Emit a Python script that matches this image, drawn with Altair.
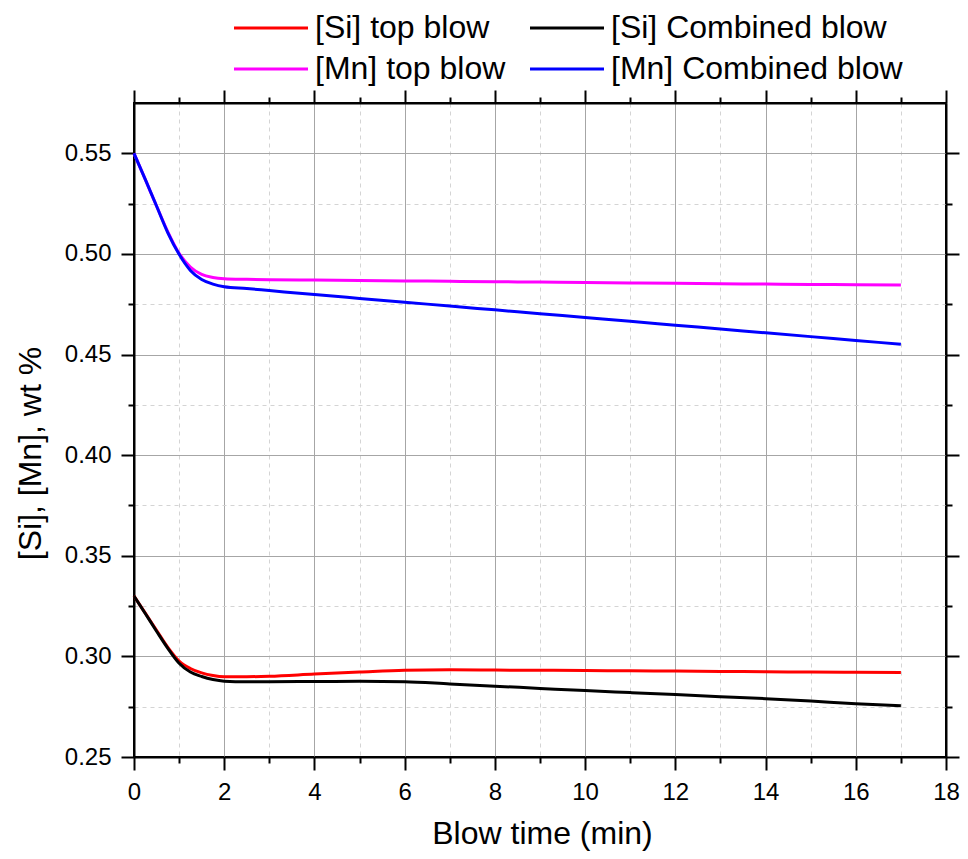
import altair as alt
import pandas as pd

# ---- data ----
time = [0, 0.25, 0.5, 0.75, 1, 1.25, 1.5, 1.75, 2, 2.5, 3, 4, 5, 6, 7, 8, 9, 10,
        11, 12, 13, 14, 15, 16, 17]

si_top = [0.330, 0.3215, 0.313, 0.3045, 0.2977, 0.2940, 0.2918, 0.2905, 0.2899,
          0.2899, 0.2901, 0.2912, 0.2922, 0.2931, 0.2933, 0.2932, 0.2931, 0.2930,
          0.2928, 0.2927, 0.2925, 0.2924, 0.2922, 0.2921, 0.2920]

si_comb = [0.330, 0.3213, 0.3125, 0.304, 0.2966, 0.2922, 0.2900, 0.2885, 0.2877,
           0.2874, 0.2874, 0.2875, 0.2876, 0.2874, 0.2863, 0.2852, 0.2841, 0.2830,
           0.2820, 0.2810, 0.2800, 0.2790, 0.2778, 0.2765, 0.2755]

mn_top = [0.550, 0.537, 0.5238, 0.5110, 0.5003, 0.4935, 0.4898, 0.4883, 0.4877,
          0.4874, 0.4872, 0.4870, 0.4868, 0.4866, 0.4864, 0.4862, 0.4860, 0.4858,
          0.4856, 0.4854, 0.4852, 0.4850, 0.4848, 0.4847, 0.4845]

mn_comb = [0.550, 0.537, 0.5238, 0.5105, 0.4998, 0.4918, 0.4873, 0.4850, 0.4837,
           0.4828, 0.4818, 0.4798, 0.4779, 0.4760, 0.4741, 0.4722, 0.4703, 0.4684,
           0.4665, 0.4646, 0.4627, 0.4608, 0.4589, 0.4570, 0.4551]

# legend fills column by column: left column = top blow, right column = combined blow
series_names = ["[Si] top blow", "[Mn] top blow", "[Si] Combined blow", "[Mn] Combined blow"]
series_colors = ["#ff0000", "#ff00ff", "#000000", "#0000ff"]
series_values = [si_top, mn_top, si_comb, mn_comb]

x_major = [0, 2, 4, 6, 8, 10, 12, 14, 16, 18]
x_minor = [1, 3, 5, 7, 9, 11, 13, 15, 17]
y_major = [0.25, 0.30, 0.35, 0.40, 0.45, 0.50, 0.55]
y_minor = [0.275, 0.325, 0.375, 0.425, 0.475, 0.525]

rows = []
for name, vals in zip(series_names, series_values):
    for t, v in zip(time, vals):
        rows.append({"t": t, "v": v, "series": name})
df = pd.DataFrame(rows)

FONT = "Arial, Liberation Sans, sans-serif"
xs = alt.Scale(domain=[0, 18], nice=False, zero=False)
ys = alt.Scale(domain=[0.25, 0.575], nice=False, zero=False)


def axis_layer(xaxis, yaxis):
    return alt.Chart(df).mark_line(strokeOpacity=0).encode(
        x=alt.X("t:Q", scale=xs, axis=xaxis),
        y=alt.Y("v:Q", scale=ys, axis=yaxis),
        detail="series:N",
    )


common = dict(tickColor="black", tickWidth=2, labelFlush=False, labelOverlap=False)

minor_main = axis_layer(
    alt.Axis(orient="bottom", values=x_minor, grid=True, gridColor="#d4d4d4",
             gridDash=[4, 4], gridWidth=1, tickSize=6, labels=False, domain=False,
             title=None, **common),
    alt.Axis(orient="left", values=y_minor, grid=True, gridColor="#d4d4d4",
             gridDash=[4, 4], gridWidth=1, tickSize=6, labels=False, domain=False,
             title=None, **common),
)

minor_mirror = axis_layer(
    alt.Axis(orient="top", values=x_minor, grid=False, tickSize=6, labels=False,
             domain=False, title=None, **common),
    alt.Axis(orient="right", values=y_minor, grid=False, tickSize=6, labels=False,
             domain=False, title=None, **common),
)

major_main = axis_layer(
    alt.Axis(orient="bottom", values=x_major, grid=True, gridColor="#a6a6a6",
             gridWidth=1, tickSize=13, labels=True, labelFont=FONT, labelFontSize=24,
             labelColor="black", labelPadding=10, format="d", domain=True,
             domainColor="black", domainWidth=2, title="Blow time (min)",
             titleFont=FONT, titleFontSize=32, titleFontWeight="normal",
             titleColor="black", titleX=408, titleY=61, **common),
    alt.Axis(orient="left", values=y_major, grid=True, gridColor="#a6a6a6",
             gridWidth=1, tickSize=13, labels=True, labelFont=FONT, labelFontSize=24,
             labelColor="black", labelPadding=10, format=".2f", domain=True,
             domainColor="black", domainWidth=2, title="[Si], [Mn], wt %",
             titleFont=FONT, titleFontSize=32, titleFontWeight="normal",
             titleColor="black", titleX=-87, titleY=350, **common),
)

major_mirror = axis_layer(
    alt.Axis(orient="top", values=x_major, grid=False, tickSize=13, labels=False,
             domain=True, domainColor="black", domainWidth=2, title=None, **common),
    alt.Axis(orient="right", values=y_major, grid=False, tickSize=13, labels=False,
             domain=True, domainColor="black", domainWidth=2, title=None, **common),
)

lines = alt.Chart(df).mark_line(strokeWidth=3, interpolate="monotone").encode(
    x=alt.X("t:Q", scale=xs, axis=None),
    y=alt.Y("v:Q", scale=ys, axis=None),
    color=alt.Color(
        "series:N",
        scale=alt.Scale(domain=series_names, range=series_colors),
        sort=series_names,
        legend=alt.Legend(
            title=None, orient="none", legendX=117, legendY=-95, columns=2,
            columnPadding=18, rowPadding=5, symbolType="M-2,0H2", symbolSize=1369,
            symbolStrokeWidth=3, labelFont=FONT, labelFontSize=32,
            labelColor="black", labelOffset=24, labelLimit=400,
        ),
    ),
)

chart = alt.layer(minor_main, minor_mirror, major_main, major_mirror, lines).resolve_axis(
    x="independent", y="independent"
).properties(
    width=812, height=654, autosize="none",
    padding={"left": 126, "top": 95, "right": 14, "bottom": 94},
).configure_view(stroke="black", strokeWidth=2)

chart.save("out.html", embed_options={"renderer": "svg", "actions": False})
